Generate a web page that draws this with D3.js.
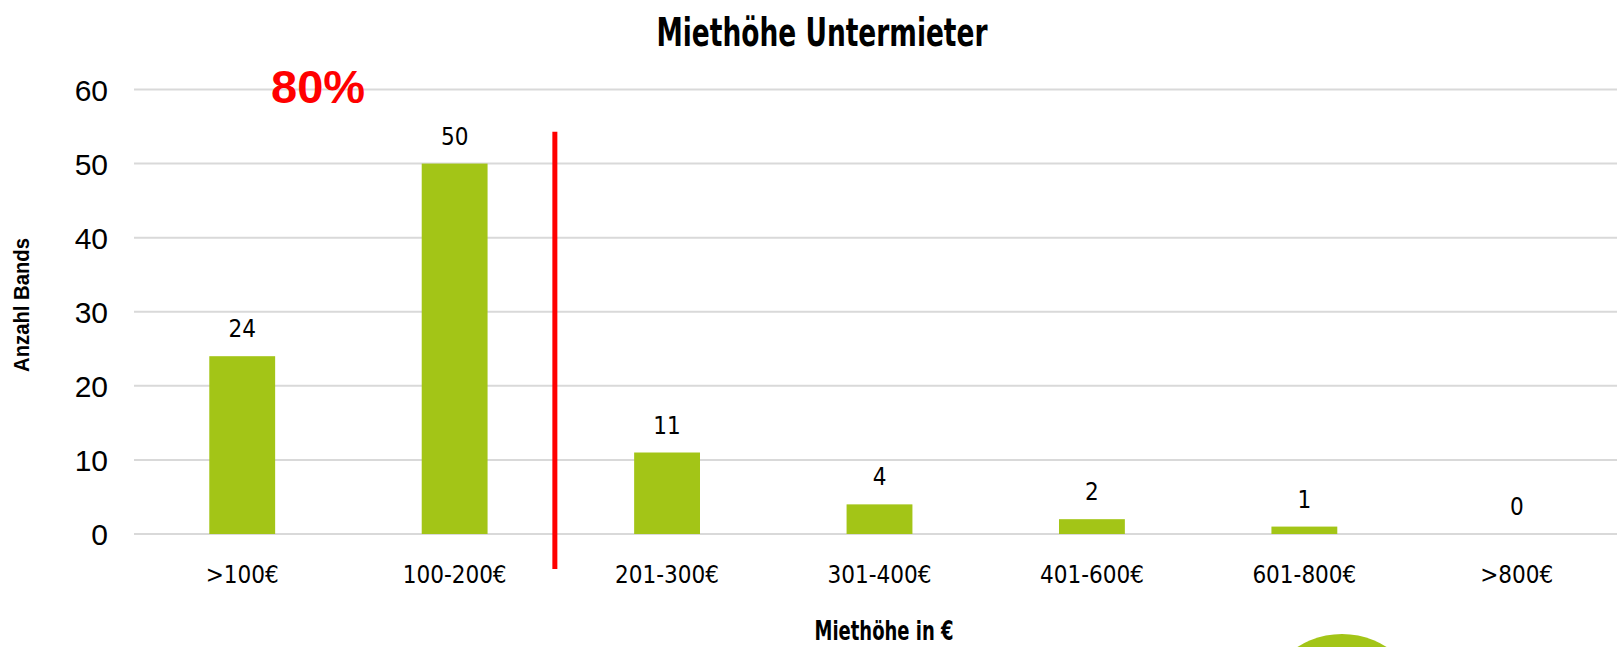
<!DOCTYPE html>
<html>
<head>
<meta charset="utf-8">
<script src="https://cdn.jsdelivr.net/npm/d3@7"></script>
<style>
  html, body { margin: 0; padding: 0; background: #fff; }
  svg { display: block; }
</style>
</head>
<body>
<div id="chart"></div>
<script>
// Data
const categories = [">100€", "100-200€", "201-300€", "301-400€", "401-600€", "601-800€", ">800€"];
const counts = [24, 50, 11, 4, 2, 1, 0];
const yTicks = [0, 10, 20, 30, 40, 50, 60];

const width = 1617;
const height = 647;
const green = "#a3c517";
const condensed = "'DejaVu Sans Condensed', 'DejaVu Sans', sans-serif";

const svg = d3.select("#chart")
    .append("svg")
    .attr("width", width)
    .attr("height", height);

svg.append("rect")
    .attr("width", width)
    .attr("height", height)
    .attr("fill", "#fff");

const x = d3.scaleBand()
    .domain(categories)
    .range([136, 1623])
    .paddingInner(0.69)
    .paddingOuter(0.345);

const y = d3.scaleLinear()
    .domain([0, 60])
    .range([534, 89.5]);

// gridlines
svg.selectAll(".grid")
    .data(yTicks)
    .enter().append("line")
    .attr("class", "grid")
    .attr("x1", 134)
    .attr("x2", width)
    .attr("y1", d => y(d))
    .attr("y2", d => y(d))
    .style("stroke", "#d9d9d9")
    .style("stroke-width", "2px");

// y axis labels
const yAxis = svg.append("g")
    .attr("transform", "translate(108,0)")
    .call(d3.axisLeft(y).tickValues(yTicks).tickSize(0).tickPadding(0));
yAxis.select(".domain").remove();
yAxis.selectAll("text")
    .style("font-family", "'Liberation Sans', Arial, sans-serif")
    .style("font-size", "30px")
    .style("fill", "#000")
    .attr("dy", "0.36em");

// bars
svg.selectAll(".bar")
    .data(counts)
    .enter().append("rect")
    .attr("class", "bar")
    .attr("x", (d, i) => x(categories[i]))
    .attr("y", d => y(d))
    .attr("width", x.bandwidth())
    .attr("height", d => y(0) - y(d))
    .style("fill", green);

// value labels
svg.selectAll(".val")
    .data(counts)
    .enter().append("text")
    .attr("class", "val")
    .attr("x", (d, i) => x(categories[i]) + x.bandwidth() / 2)
    .attr("y", d => y(d) - 19)
    .attr("text-anchor", "middle")
    .style("font-family", condensed)
    .style("font-size", "24px")
    .style("fill", "#000")
    .text(d => d);

// x axis labels
const xAxis = svg.append("g")
    .attr("transform", `translate(0,${y(0)})`)
    .call(d3.axisBottom(x).tickSize(0).tickPadding(0));
xAxis.select(".domain").remove();
xAxis.selectAll("text")
    .attr("dy", null)
    .attr("y", 49)
    .style("font-family", condensed)
    .style("font-size", "24px")
    .style("fill", "#000");

// title
svg.append("text")
    .attr("x", 822)
    .attr("y", 46)
    .attr("text-anchor", "middle")
    .attr("textLength", 331)
    .attr("lengthAdjust", "spacingAndGlyphs")
    .style("font-family", condensed)
    .style("font-weight", "bold")
    .style("font-size", "39px")
    .text("Miethöhe Untermieter");

// axis titles
svg.append("text")
    .attr("x", 884)
    .attr("y", 640)
    .attr("text-anchor", "middle")
    .attr("textLength", 139)
    .attr("lengthAdjust", "spacingAndGlyphs")
    .style("font-family", condensed)
    .style("font-weight", "bold")
    .style("font-size", "27px")
    .text("Miethöhe in €");

svg.append("text")
    .attr("transform", "translate(29,305) rotate(-90)")
    .attr("text-anchor", "middle")
    .attr("textLength", 134)
    .attr("lengthAdjust", "spacingAndGlyphs")
    .style("font-family", "'Liberation Sans', Arial, sans-serif")
    .style("font-weight", "bold")
    .style("font-size", "22px")
    .text("Anzahl Bands");

// 80% annotation and divider
svg.append("text")
    .attr("x", 271)
    .attr("y", 103)
    .style("font-family", "'Liberation Sans', Arial, sans-serif")
    .style("font-weight", "bold")
    .style("font-size", "47px")
    .style("fill", "#ff0000")
    .text("80%");

const dividerX = (x(categories[1]) + x(categories[2]) + x.bandwidth()) / 2 - 6;
svg.append("line")
    .attr("x1", dividerX)
    .attr("x2", dividerX)
    .attr("y1", y(54.3))
    .attr("y2", y(0) + 35)
    .style("stroke", "#ff0000")
    .style("stroke-width", "5px");

// green logo circle, cut off at the bottom
svg.append("circle")
    .attr("cx", 1342)
    .attr("cy", 717)
    .attr("r", 83)
    .style("fill", green);
</script>
</body>
</html>
